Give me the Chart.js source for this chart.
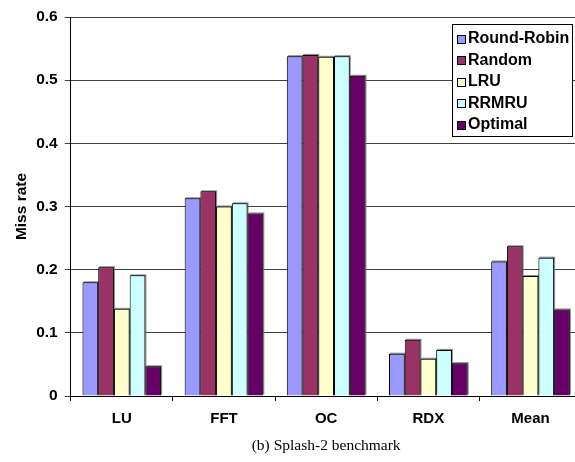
<!DOCTYPE html>
<html>
<head>
<meta charset="utf-8">
<script src="https://cdn.jsdelivr.net/npm/chart.js@4/dist/chart.umd.min.js"></script>
<style>
  html, body { margin: 0; padding: 0; background: #fff; overflow: hidden; }
  #wrap { width: 600px; height: 462px; }
</style>
</head>
<body>
<div id="wrap"><canvas id="c" width="600" height="462"></canvas></div>
<script>
// Benchmarks on the x axis
const categories = ['LU', 'FFT', 'OC', 'RDX', 'Mean'];

// Miss rate per replacement policy
const roundRobin = [0.180, 0.313, 0.538, 0.067, 0.213];
const randomPol  = [0.204, 0.324, 0.540, 0.089, 0.237];
const lru        = [0.138, 0.300, 0.537, 0.059, 0.190];
const rrmru      = [0.191, 0.305, 0.538, 0.073, 0.219];
const optimal    = [0.047, 0.289, 0.507, 0.052, 0.137];

const seriesNames = ['Round-Robin', 'Random', 'LRU', 'RRMRU', 'Optimal'];
const seriesColors = ['#9999FF', '#993366', '#FFFFCC', '#CCFFFF', '#660066'];
const seriesValues = [roundRobin, randomPol, lru, rrmru, optimal];

const yTicks = [0, 0.1, 0.2, 0.3, 0.4, 0.5, 0.6];

const SANS = '"Liberation Sans", Arial, sans-serif';
const SERIF = '"Liberation Serif", "Times New Roman", serif';

const datasets = seriesNames.map((name, i) => ({
  label: name,
  data: seriesValues[i],
  backgroundColor: seriesColors[i],
  borderColor: '#000',
  borderWidth: 1,
  borderSkipped: 'bottom',
  barPercentage: 1.0,
  categoryPercentage: 0.77
}));

// soft gray drop shadow behind each bar
const barShadow = {
  id: 'barShadow',
  beforeDatasetsDraw(chart) {
    const ctx = chart.ctx;
    ctx.save();
    ctx.fillStyle = 'rgba(120,120,120,0.85)';
    chart.data.datasets.forEach((ds, i) => {
      const meta = chart.getDatasetMeta(i);
      meta.data.forEach(bar => {
        const w = bar.width;
        ctx.fillRect(bar.x - w / 2 + 1, bar.y - 1, w, bar.base - bar.y);
      });
    });
    ctx.restore();
  }
};

// boxed legend inside the plot, upper right
const boxLegend = {
  id: 'boxLegend',
  afterDraw(chart) {
    const ctx = chart.ctx;
    const area = chart.chartArea;
    const right = Math.round(area.right - 10);
    const left = right - 120;
    const top = Math.round(area.top + 7);
    const bottom = top + 112;
    ctx.save();
    ctx.fillStyle = '#fff';
    ctx.fillRect(left, top, right - left, bottom - top);
    ctx.strokeStyle = '#000';
    ctx.lineWidth = 1;
    ctx.strokeRect(left + 0.5, top + 0.5, right - left, bottom - top);
    ctx.font = 'bold 16px ' + SANS;
    ctx.textBaseline = 'middle';
    ctx.textAlign = 'left';
    chart.data.datasets.forEach((ds, i) => {
      const cy = top + 14.5 + i * 21.5;
      const sx = left + 5.5;
      const sy = Math.round(cy - 4) + 0.5;
      ctx.fillStyle = ds.backgroundColor;
      ctx.fillRect(sx, sy, 8, 8);
      ctx.strokeStyle = '#000';
      ctx.strokeRect(sx, sy, 8, 8);
      ctx.fillStyle = '#000';
      ctx.fillText(ds.label, left + 16, cy + 0.5);
    });
    ctx.restore();
  }
};

new Chart(document.getElementById('c'), {
  type: 'bar',
  data: { labels: categories, datasets },
  plugins: [barShadow, boxLegend],
  options: {
    responsive: false,
    animation: false,
    events: [],
    layout: { padding: { top: 17, right: 18.4, bottom: 0, left: 0 } },
    plugins: {
      legend: { display: false },
      tooltip: { enabled: false }
    },
    scales: {
      x: {
        offset: true,
        grid: {
          offset: true,
          drawOnChartArea: false,
          drawTicks: true,
          tickLength: 5,
          color: '#000'
        },
        border: { color: '#000', width: 1 },
        ticks: {
          color: '#000',
          padding: 9,
          font: { family: SANS, size: 15, weight: 'bold' }
        },
        title: {
          display: true,
          text: '(b) Splash-2 benchmark',
          color: '#000',
          padding: { top: 0, bottom: 7 },
          font: { family: SERIF, size: 15.5, weight: 'normal' }
        },
        afterFit(scale) { scale.height = 66; }
      },
      y: {
        min: 0,
        max: 0.6,
        afterBuildTicks(scale) { scale.ticks = yTicks.map(v => ({ value: v })); },
        grid: {
          color: '#404040',
          lineWidth: 1,
          drawTicks: true,
          tickLength: 6
        },
        border: { color: '#000', width: 1 },
        ticks: {
          color: '#000',
          padding: 7,
          font: { family: SANS, size: 15.5, weight: 'bold' },
          callback: v => String(Math.round(v * 10) / 10)
        },
        title: {
          display: true,
          text: 'Miss rate',
          color: '#000',
          padding: { top: 12, bottom: 0 },
          font: { family: SANS, size: 15.5, weight: 'bold' }
        },
        afterFit(scale) { scale.width = 70.7; }
      }
    }
  }
});
</script>
</body>
</html>
